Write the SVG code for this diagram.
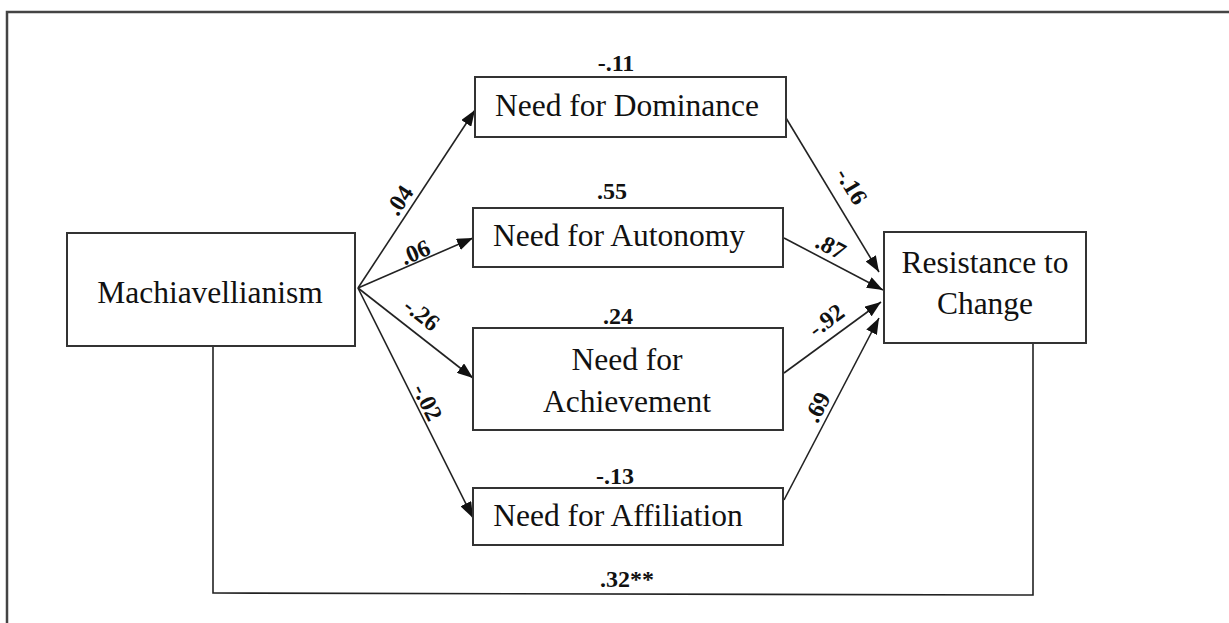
<svg xmlns="http://www.w3.org/2000/svg" width="1229" height="623" viewBox="0 0 1229 623">
<style>
.box{fill:#fff;stroke:#333;stroke-width:2}
.lbl{font-family:"Liberation Serif","Times New Roman",serif;font-size:31.5px;fill:#111;text-anchor:middle}
.coef{font-family:"Liberation Serif","Times New Roman",serif;font-size:24px;font-weight:bold;fill:#111;text-anchor:middle}
.edge{fill:none;stroke:#222;stroke-width:1.6}
</style>
<defs>
<marker id="arr" markerUnits="userSpaceOnUse" markerWidth="16" markerHeight="12" viewBox="0 0 16 12" refX="16" refY="6" orient="auto">
<path d="M0,0 L16,6 L0,12 Z" fill="#111"/>
</marker>
</defs>
<rect width="1229" height="623" fill="#fff"/>
<path d="M7,623 L7,12 L1229,12" fill="none" stroke="#444" stroke-width="2.5"/>

<g id="connectors">
<line class="edge" x1="358" y1="288" x2="475" y2="110" marker-end="url(#arr)"/>
<line class="edge" x1="358" y1="288" x2="473" y2="238" marker-end="url(#arr)"/>
<line class="edge" x1="358" y1="288" x2="473" y2="378" marker-end="url(#arr)"/>
<line class="edge" x1="358" y1="288" x2="473" y2="518" marker-end="url(#arr)"/>
<line class="edge" x1="786" y1="118" x2="879" y2="272" marker-end="url(#arr)"/>
<line class="edge" x1="784" y1="238" x2="883" y2="290" marker-end="url(#arr)"/>
<line class="edge" x1="784" y1="373" x2="881" y2="302" marker-end="url(#arr)"/>
<line class="edge" x1="784" y1="500" x2="879" y2="318" marker-end="url(#arr)"/>
<path class="edge" d="M213,346 L213,593 L1033,595 L1033,343" stroke-width="2"/>
<text class="coef" transform="translate(399,200) rotate(-56.5)" dy="0.35em">.04</text>
<text class="coef" transform="translate(415,252) rotate(-23)" dy="0.35em">.06</text>
<text class="coef" transform="translate(422,314) rotate(38)" dy="0.35em">-.26</text>
<text class="coef" transform="translate(428,402) rotate(63.5)" dy="0.35em">-.02</text>
<text class="coef" transform="translate(852,186) rotate(59)" dy="0.35em">-.16</text>
<text class="coef" transform="translate(831,246) rotate(28)" dy="0.35em">.87</text>
<text class="coef" transform="translate(826,320) rotate(-36.5)" dy="0.35em">-.92</text>
<text class="coef" transform="translate(817,407) rotate(-62.7)" dy="0.35em">.69</text>
<text class="coef" x="627" y="587">.32**</text>
</g>

<g id="machiavellianism">
<rect class="box" x="67" y="233" width="288" height="113"/>
<text class="lbl" x="210" y="303">Machiavellianism</text>
</g>
<g id="dominance">
<rect class="box" x="475" y="77" width="311" height="60"/>
<text class="lbl" x="627" y="116">Need for Dominance</text>
<text class="coef" x="616" y="71">-.11</text>
</g>
<g id="autonomy">
<rect class="box" x="473" y="208" width="310" height="59"/>
<text class="lbl" x="619" y="246">Need for Autonomy</text>
<text class="coef" x="612" y="199">.55</text>
</g>
<g id="achievement">
<rect class="box" x="473" y="328" width="310" height="102"/>
<text class="lbl" x="627" y="370">Need for</text>
<text class="lbl" x="627" y="412">Achievement</text>
<text class="coef" x="618" y="324">.24</text>
</g>
<g id="affiliation">
<rect class="box" x="473" y="488" width="310" height="57"/>
<text class="lbl" x="618" y="526">Need for Affiliation</text>
<text class="coef" x="615" y="484">-.13</text>
</g>
<g id="resistance">
<rect class="box" x="884" y="232" width="202" height="111"/>
<text class="lbl" x="985" y="273">Resistance to</text>
<text class="lbl" x="985" y="314">Change</text>
</g>
</svg>
